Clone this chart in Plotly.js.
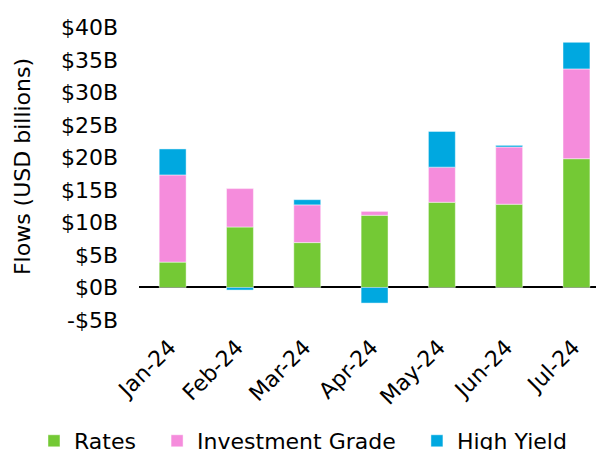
<!DOCTYPE html>
<html>
<head>
<meta charset="utf-8">
<script src="https://cdn.plot.ly/plotly-3.0.1.min.js"></script>
<style>html,body{margin:0;padding:0;background:#fff;overflow:hidden;}#chart{width:596px;height:450px;}</style>
</head>
<body>
<div id="chart"></div>
<script>
const months = ["Jan-24", "Feb-24", "Mar-24", "Apr-24", "May-24", "Jun-24", "Jul-24"];
const rates = [3.9, 9.3, 6.9, 11.1, 13.1, 12.8, 19.8];
const investmentGrade = [13.4, 5.9, 5.8, 0.6, 5.4, 8.8, 13.8];
const highYield = [4.0, -0.4, 0.8, -2.4, 5.5, 0.25, 4.1];
const seriesNames = ["Rates", "Investment Grade", "High Yield"];
const yTickVals = [-5, 0, 5, 10, 15, 20, 25, 30, 35, 40];
const yTickText = ["-$5B", "$0B", "$5B", "$10B", "$15B", "$20B", "$25B", "$30B", "$35B", "$40B"];

const FONT = "DejaVu Sans, sans-serif";
const edge = {color: "rgba(255,255,255,0.45)", width: 1};
const pad = "\u00a0\u00a0\u200a"; // spacing after legend entries

const traces = [
  {type: "bar", name: seriesNames[0] + pad, x: months, y: rates, marker: {color: "#74C935", line: edge}},
  {type: "bar", name: seriesNames[1] + pad, x: months, y: investmentGrade, marker: {color: "#F58CDC", line: edge}},
  {type: "bar", name: seriesNames[2], x: months, y: highYield, marker: {color: "#00A8E0", line: edge}}
];

const layout = {
  width: 596, height: 450,
  margin: {l: 139, r: 0, t: 0, b: 117, pad: 0, autoexpand: false},
  paper_bgcolor: "#fff", plot_bgcolor: "#fff",
  barmode: "relative",
  bargap: 0.6,
  font: {family: FONT, size: 22, color: "#000"},
  showlegend: true,
  legend: {orientation: "h", x: -0.2298, xanchor: "left", y: -0.3243, yanchor: "middle",
           font: {family: FONT, size: 22, color: "#000"}, traceorder: "normal"},
  xaxis: {type: "category", range: [-0.5, 6.29], tickangle: -45, showgrid: false, automargin: false,
          showline: false, ticks: "", zeroline: false, ticklabelstandoff: -4, ticklabelshift: -3,
          tickfont: {family: FONT, size: 22, color: "#000"}},
  yaxis: {range: [-7, 44.2], tickvals: yTickVals, ticktext: yTickText, showgrid: false, automargin: false,
          showline: false, ticks: "", zeroline: true, zerolinecolor: "#000", zerolinewidth: 2,
          ticklabelstandoff: 20,
          tickfont: {family: FONT, size: 22, color: "#000"},
          title: {text: "Flows (USD billions)", font: {family: FONT, size: 22, color: "#000"}, standoff: 24}}
};

Plotly.newPlot("chart", traces, layout, {displayModeBar: false, staticPlot: true});
</script>
</body>
</html>
